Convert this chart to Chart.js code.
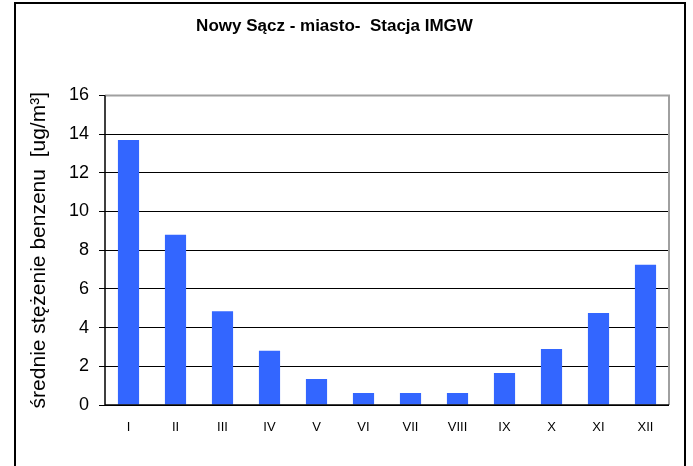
<!DOCTYPE html>
<html>
<head>
<meta charset="utf-8">
<script src="https://cdn.jsdelivr.net/npm/chart.js@4/dist/chart.umd.min.js"></script>
<style>
  html, body { margin: 0; padding: 0; background: #ffffff; }
  #wrap { width: 693px; height: 466px; position: relative; }
</style>
</head>
<body>
<div id="wrap"><canvas id="chart" width="693" height="466"></canvas></div>
<script>
// dane z wykresu
const months = ['I', 'II', 'III', 'IV', 'V', 'VI', 'VII', 'VIII', 'IX', 'X', 'XI', 'XII'];
const benzen = [13.7, 8.8, 4.85, 2.8, 1.35, 0.62, 0.62, 0.62, 1.65, 2.9, 4.75, 7.25];
const yTicks = [0, 2, 4, 6, 8, 10, 12, 14, 16];

const chartTitle = 'Nowy Sącz - miasto-  Stacja IMGW';
const yTitle = 'średnie stężenie benzenu  [ug/m³]';

// ramka wokół całości + szara ramka obszaru wykresu
const framePlugin = {
    id: 'frame',
    afterDraw(chart) {
        const ctx = chart.ctx;
        const a = chart.chartArea;
        ctx.save();
        ctx.strokeStyle = '#a0a0a0';
        ctx.lineWidth = 2;
        ctx.beginPath();
        ctx.moveTo(a.left, a.top);
        ctx.lineTo(a.right, a.top);
        ctx.lineTo(a.right, a.bottom);
        ctx.stroke();
        // osie
        ctx.strokeStyle = '#000000';
        ctx.lineWidth = 1.5;
        ctx.beginPath();
        ctx.moveTo(a.left, a.top);
        ctx.lineTo(a.left, a.bottom);
        ctx.lineTo(a.right, a.bottom);
        ctx.stroke();
        // zewnętrzna ramka
        ctx.lineWidth = 2;
        ctx.strokeRect(15, 3, 670, 480);
        ctx.restore();
    }
};

new Chart(document.getElementById('chart'), {
    type: 'bar',
    data: {
        labels: months,
        datasets: [{
            data: benzen,
            backgroundColor: '#3366ff',
            borderWidth: 0,
            barPercentage: 0.45,
            categoryPercentage: 1.0
        }]
    },
    options: {
        responsive: false,
        animation: false,
        devicePixelRatio: 1,
        layout: { padding: { left: 0, right: 24, top: 0, bottom: 0 } },
        plugins: {
            legend: { display: false },
            tooltip: { enabled: false },
            title: {
                display: true,
                text: chartTitle,
                color: '#000000',
                font: { family: 'Liberation Sans, Arial', size: 17, weight: 'bold' },
                padding: { top: 16, bottom: 59 }
            }
        },
        scales: {
            x: {
                grid: { display: false, drawTicks: false },
                border: { display: false },
                ticks: {
                    color: '#000000',
                    font: { family: 'Liberation Sans, Arial', size: 13 },
                    padding: 15
                },
                afterFit(scale) { scale.height = 61; }
            },
            y: {
                min: 0,
                max: 16,
                afterBuildTicks(scale) {
                    scale.ticks = yTicks.map(v => ({ value: v }));
                },
                grid: {
                    color: ctx => ctx.tick && ctx.tick.value === 16 ? '#a0a0a0' : '#000000',
                    lineWidth: 1,
                    tickLength: 6,
                    tickColor: '#000000'
                },
                border: { display: false },
                ticks: {
                    color: '#000000',
                    font: { family: 'Liberation Sans, Arial', size: 18 },
                    padding: 10
                },
                title: {
                    display: true,
                    text: yTitle,
                    color: '#000000',
                    font: { family: 'Liberation Sans, Arial', size: 21 },
                    padding: { top: 27, bottom: 0 }
                },
                afterFit(scale) { scale.width = 105; }
            }
        }
    },
    plugins: [framePlugin]
});
</script>
</body>
</html>
